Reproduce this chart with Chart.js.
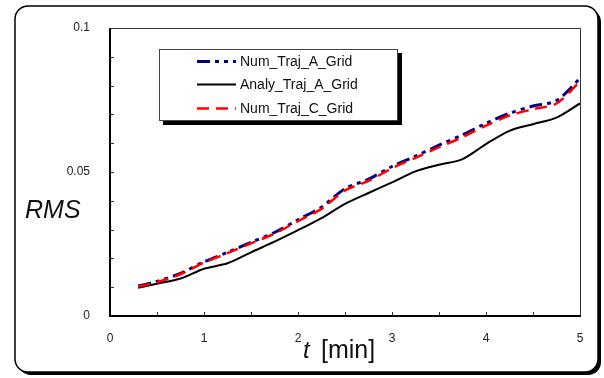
<!DOCTYPE html>
<html>
<head>
<meta charset="utf-8">
<script src="https://cdn.jsdelivr.net/npm/chart.js@4/dist/chart.umd.min.js"></script>
<style>
  html, body { margin: 0; padding: 0; background: #fff; }
  #wrap { width: 604px; height: 378px; }
</style>
</head>
<body>
<div id="wrap"><canvas id="rmsChart" width="604" height="378"></canvas></div>
<script>
// time in minutes
const timeMin = [0.3, 0.5, 0.75, 1.0, 1.25, 1.5, 1.75, 2.0, 2.25, 2.5, 2.75, 3.0, 3.25, 3.5, 3.75, 4.0, 4.25, 4.5, 4.75, 5.0];

// RMS series
const numTrajA = [0.0104, 0.0120, 0.0148, 0.0188, 0.0221, 0.0256, 0.0290, 0.0334, 0.0378, 0.0442, 0.0475, 0.0519, 0.0555, 0.0593, 0.0629, 0.0669, 0.0704, 0.0729, 0.0748, 0.0825];
const analyTrajA = [0.0098, 0.0112, 0.0130, 0.0164, 0.0183, 0.0221, 0.0258, 0.0298, 0.0340, 0.0389, 0.0427, 0.0464, 0.0502, 0.0525, 0.0545, 0.0597, 0.0643, 0.0666, 0.0689, 0.0738];
const numTrajC = [0.0102, 0.0117, 0.0145, 0.0185, 0.0218, 0.0252, 0.0286, 0.0329, 0.0372, 0.0436, 0.0469, 0.0513, 0.0549, 0.0586, 0.0621, 0.0661, 0.0696, 0.0718, 0.0738, 0.0814];

const seriesNames = ['Num_Traj_A_Grid', 'Analy_Traj_A_Grid', 'Num_Traj_C_Grid'];
const yLabelTicks = [0, 0.05, 0.1];
const xLabelTicks = [0, 1, 2, 3, 4, 5];

const toPoints = arr => arr.map((v, i) => ({ x: timeMin[i], y: v }));

const FONT = '"Liberation Sans", Arial, sans-serif';

// rounded frame with drop shadow behind the whole chart
const framePlugin = {
  id: 'frame',
  beforeDraw(chart) {
    const ctx = chart.ctx;
    const rr = (x, y, w, h, r) => {
      ctx.beginPath();
      ctx.moveTo(x + r, y);
      ctx.lineTo(x + w - r, y);
      ctx.arcTo(x + w, y, x + w, y + r, r);
      ctx.lineTo(x + w, y + h - r);
      ctx.arcTo(x + w, y + h, x + w - r, y + h, r);
      ctx.lineTo(x + r, y + h);
      ctx.arcTo(x, y + h, x, y + h - r, r);
      ctx.lineTo(x, y + r);
      ctx.arcTo(x, y, x + r, y, r);
      ctx.closePath();
    };
    ctx.save();
    ctx.fillStyle = '#fff';
    ctx.fillRect(0, 0, chart.width, chart.height);
    rr(18, 9, 583, 366, 13);
    ctx.fillStyle = '#000';
    ctx.fill();
    rr(15, 6, 583, 366, 13);
    ctx.fillStyle = '#fff';
    ctx.fill();
    ctx.lineWidth = 1.5;
    ctx.strokeStyle = '#000';
    ctx.stroke();
    ctx.restore();
  }
};

// plot box, inside ticks, axis titles
const axesPlugin = {
  id: 'axesBox',
  afterDatasetsDraw(chart) {
    const { ctx, chartArea: a, scales } = chart;
    ctx.save();
    // thin top/right border
    ctx.strokeStyle = '#333';
    ctx.lineWidth = 1;
    ctx.beginPath();
    ctx.moveTo(a.left, a.top + 0.5);
    ctx.lineTo(a.right + 0.5, a.top + 0.5);
    ctx.lineTo(a.right + 0.5, a.bottom);
    ctx.stroke();
    // thick left/bottom axis
    ctx.strokeStyle = '#000';
    ctx.lineWidth = 2;
    ctx.beginPath();
    ctx.moveTo(a.left, a.top);
    ctx.lineTo(a.left, a.bottom);
    ctx.lineTo(a.right + 1, a.bottom);
    ctx.stroke();
    // inside tick marks
    ctx.strokeStyle = '#333';
    ctx.lineWidth = 1;
    ctx.beginPath();
    for (let i = 1; i < 10; i++) {
      const y = Math.round(scales.y.getPixelForValue(i / 100)) + 0.5;
      ctx.moveTo(a.left, y);
      ctx.lineTo(a.left + 4, y);
    }
    for (let i = 1; i < 10; i++) {
      const x = Math.round(scales.x.getPixelForValue(i / 2)) + 0.5;
      ctx.moveTo(x, a.bottom);
      ctx.lineTo(x, a.bottom - 4);
    }
    ctx.stroke();

    // axis titles
    ctx.fillStyle = '#111';
    ctx.textBaseline = 'alphabetic';
    ctx.textAlign = 'left';
    ctx.font = 'italic 25px ' + FONT;
    ctx.fillText('RMS', 25, 218);
    ctx.font = 'italic 24px ' + FONT;
    ctx.fillText('t', 303, 358);
    ctx.font = '25px ' + FONT;
    ctx.fillText('[min]', 321, 358);
    ctx.restore();
  }
};

// legend box drawn inside the plot
const legendPlugin = {
  id: 'boxLegend',
  afterDatasetsDraw(chart) {
    const ctx = chart.ctx;
    const bx = 159, by = 49, bw = 239, bh = 72;
    ctx.save();
    ctx.fillStyle = '#000';
    ctx.fillRect(bx + 4, by + 4, bw, bh);
    ctx.fillStyle = '#fff';
    ctx.fillRect(bx, by, bw, bh);
    ctx.strokeStyle = '#444';
    ctx.lineWidth = 1;
    ctx.strokeRect(bx + 0.5, by + 0.5, bw - 1, bh - 1);
    const rows = [61, 84, 108];
    [0, 1, 2].forEach((di, k) => {
      const ds = chart.data.datasets[di];
      const y = rows[k];
      ctx.beginPath();
      ctx.strokeStyle = ds.borderColor;
      ctx.lineWidth = ds.borderWidth;
      ctx.setLineDash(ds.borderDash || []);
      ctx.moveTo(197, y + 0.5);
      ctx.lineTo(236, y + 0.5);
      ctx.stroke();
      ctx.setLineDash([]);
      ctx.fillStyle = '#111';
      ctx.font = '14px ' + FONT;
      ctx.textBaseline = 'middle';
      ctx.fillText(ds.label, 240, y + 1);
    });
    ctx.restore();
  }
};

new Chart(document.getElementById('rmsChart').getContext('2d'), {
  type: 'line',
  data: {
    datasets: [
      {
        label: seriesNames[0],
        data: toPoints(numTrajA),
        borderColor: '#000080',
        borderWidth: 3,
        borderDash: [13, 5, 4, 5, 4, 5],
        pointRadius: 0,
        tension: 0.3,
        fill: false,
        order: 2
      },
      {
        label: seriesNames[1],
        data: toPoints(analyTrajA),
        borderColor: '#000000',
        borderWidth: 2,
        pointRadius: 0,
        tension: 0.3,
        fill: false,
        order: 1
      },
      {
        label: seriesNames[2],
        data: toPoints(numTrajC),
        borderColor: '#ff0000',
        borderWidth: 2.5,
        borderDash: [12, 7],
        pointRadius: 0,
        tension: 0.3,
        fill: false,
        order: 0
      }
    ]
  },
  options: {
    responsive: false,
    animation: false,
    events: [],
    layout: { padding: { top: 28, right: 24, left: 0, bottom: 0 } },
    plugins: {
      legend: { display: false },
      tooltip: { enabled: false }
    },
    scales: {
      x: {
        type: 'linear',
        min: 0,
        max: 5,
        grid: { display: false },
        border: { display: false },
        afterFit: s => { s.height = 62; },
        afterBuildTicks: s => { s.ticks = xLabelTicks.map(v => ({ value: v })); },
        ticks: {
          padding: 7,
          maxRotation: 0,
          color: '#222',
          font: { family: FONT, size: 12 },
          callback: v => String(v)
        }
      },
      y: {
        min: 0,
        max: 0.1,
        grid: { display: false },
        border: { display: false },
        afterFit: s => { s.width = 110; },
        afterBuildTicks: s => { s.ticks = yLabelTicks.map(v => ({ value: v })); },
        ticks: {
          padding: 12,
          color: '#222',
          font: { family: FONT, size: 12 },
          callback: v => String(v)
        }
      }
    }
  },
  plugins: [framePlugin, axesPlugin, legendPlugin]
});
</script>
</body>
</html>
